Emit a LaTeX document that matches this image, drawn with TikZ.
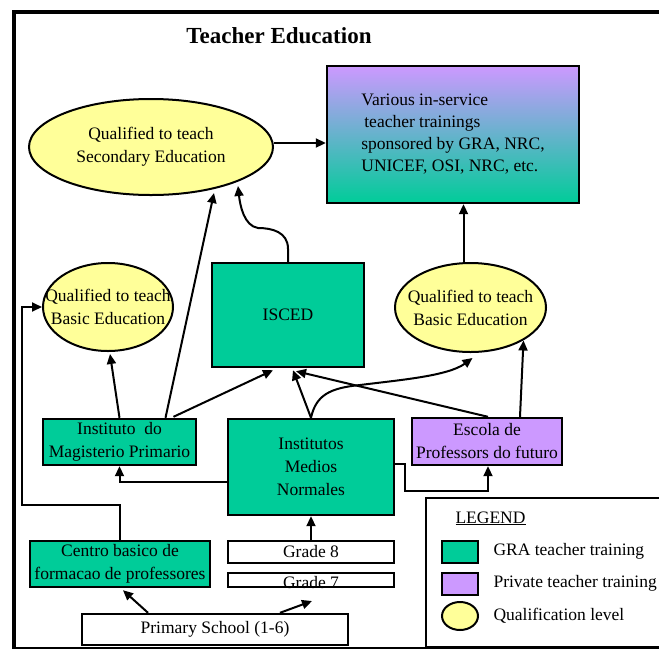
\documentclass[tikz,border=0pt]{standalone}
\usepackage{fontspec}
\setmainfont{Liberation Serif}
\usetikzlibrary{arrows.meta,shapes.geometric,calc}
\definecolor{gra}{HTML}{00CC99}
\definecolor{priv}{HTML}{CC99FF}
\definecolor{qual}{HTML}{FFFF99}
\newcommand{\ztext}[1]{\makebox[0pt]{\parbox{220pt}{\centering\fontsize{17.5}{23}\selectfont #1}}}
\begin{document}
\begin{tikzpicture}[x=1pt,y=-1pt,
  txt/.style={font=\fontsize{17.5}{23}\selectfont, align=center},
  box/.style={txt, draw, line width=2.4pt, inner sep=0pt},
  grabox/.style={box, fill=gra},
  privbox/.style={box, fill=priv},
  whitebox/.style={box, fill=white},
  qualell/.style={ellipse, draw, line width=2pt, fill=qual, inner sep=0pt},
  arr/.style={line width=2pt, -{Triangle[length=10pt,width=9pt]}},
  ln/.style={line width=2pt}]
\useasboundingbox (0,0) rectangle (659,649);
% frame
\draw[line width=4pt] (12,12) -- (665,12);
\draw[line width=4pt] (14,10) -- (14,649);
\draw[line width=2pt] (14,647.5) -- (665,647.5);
% title
\node[font=\fontsize{23}{28}\selectfont\bfseries, anchor=base] (title) at (279,43) {Teacher Education};
% nodes
\node[qualell, minimum width=244pt, minimum height=96pt] (sec) at (151,147) {\ztext{Qualified to teach\\Secondary Education}};
\node[box, top color=priv, bottom color=gra, minimum width=252pt, minimum height=137pt, align=left, font=\fontsize{17.5}{22}\selectfont] (var) at (453,134.5)
  {Various in-service\\\hspace{3pt}teacher trainings\\sponsored by GRA, NRC,\\UNICEF, OSI, NRC, etc.};
\node[qualell, minimum width=130pt, minimum height=88pt] (basicL) at (108,307) {\ztext{Qualified to teach\\Basic Education}};
\node[qualell, minimum width=151pt, minimum height=89pt] (basicR) at (470.5,307.5) {\ztext{Qualified to teach\\Basic Education}};
\node[grabox, minimum width=152pt, minimum height=104pt] (isced) at (288,315) {ISCED};
\node[grabox, minimum width=153pt, minimum height=46pt] (magis) at (119.5,442) {Instituto\ \ do\\Magisterio Primario};
\node[grabox, minimum width=166pt, minimum height=96pt] (imn) at (311,467) {Institutos\\Medios\\Normales};
\node[privbox, minimum width=150pt, minimum height=47pt] (escola) at (487,441.5) {Escola de\\Professors do futuro};
\node[grabox, minimum width=180pt, minimum height=46pt] (centro) at (120,564) {Centro basico de\\formacao de professores};
\node[whitebox, minimum width=166pt, minimum height=22pt] (g8) at (311,552) {Grade 8};
\node[whitebox, minimum width=166pt, minimum height=14pt] (g7) at (311,580) {\smash{\raisebox{-8pt}{Grade 7}}};
\node[whitebox, minimum width=266pt, minimum height=31pt] (primary) at (215,629.5) {Primary School (1-6)};
% legend
\node[draw, line width=2pt, minimum width=274pt, minimum height=149pt, inner sep=0pt] (legend) at (563,572.5) {};
\node[txt, anchor=base west] (legt) at (452,523) {\underline{LEGEND}};
\node[grabox, minimum width=36pt, minimum height=22pt] (lg1) at (460,552) {};
\node[privbox, minimum width=36pt, minimum height=22pt] (lg2) at (460,584) {};
\node[qualell, minimum width=36pt, minimum height=28pt] (lg3) at (460,616) {};
\node[txt, anchor=base west] (lt1) at (490,555) {GRA teacher training};
\node[txt, anchor=base west] (lt2) at (490,587) {Private teacher training};
\node[txt, anchor=base west] (lt3) at (490,620) {Qualification level};
% connectors
\draw[arr] ($(sec.east)+(0,-4)$) coordinate (se) -- (se -| var.west);
\draw[arr] (isced.north) -- ++(0,-13) .. controls (288,232) and (272,228) .. (258,228) .. controls (244,226) and (240,205) .. ($(sec.center)+(87,39)$);
\draw[arr] ($(magis.north)+(46,0)$) -- ($(sec.center)+(63,46)$);
\draw[arr] (magis.north) -- ($(basicL.south)+(2,2)$);
\draw[arr] ($(magis.north)+(54,-1)$) -- ($(isced.south)+(-15,2)$);
\draw[arr] (imn.north) -- ($(isced.south)+(5,2)$);
\draw[arr] (imn.north) .. controls (316,395) and (330,388) .. (360,385) .. controls (400,380) and (448,376) .. ($(basicR.south)+(2,5)$);
\draw[arr] ($(escola.north)+(1,0)$) -- ($(isced.south)+(8,3)$);
\draw[arr] ($(escola.north)+(33,0)$) -- ($(basicR.center)+(53,33)$);
\draw[arr] ($(basicR.north)+(-7,0)$) coordinate (bRn) -- (bRn |- var.south);
\draw[arr] ($(imn.east)+(0,-3)$) -- ++(10,0) |- ($(escola.south)+(1,25)$) -- ($(escola.south)+(1,0)$);
\draw[arr] ($(imn.west)+(0,15)$) -| (magis.south);
\coordinate (lftc) at (22,505);
\draw[arr] (centro.north) |- (lftc) |- (basicL.west);
\draw[arr] (g8.north) -- (imn.south);
\draw[arr] ($(primary.north)+(-67,0)$) -- ($(centro.south)+(3,2)$);
\coordinate (g7arr) at (312,601);
\draw[arr] ($(primary.north)+(65,0)$) -- (g7arr);
\end{tikzpicture}
\end{document}
